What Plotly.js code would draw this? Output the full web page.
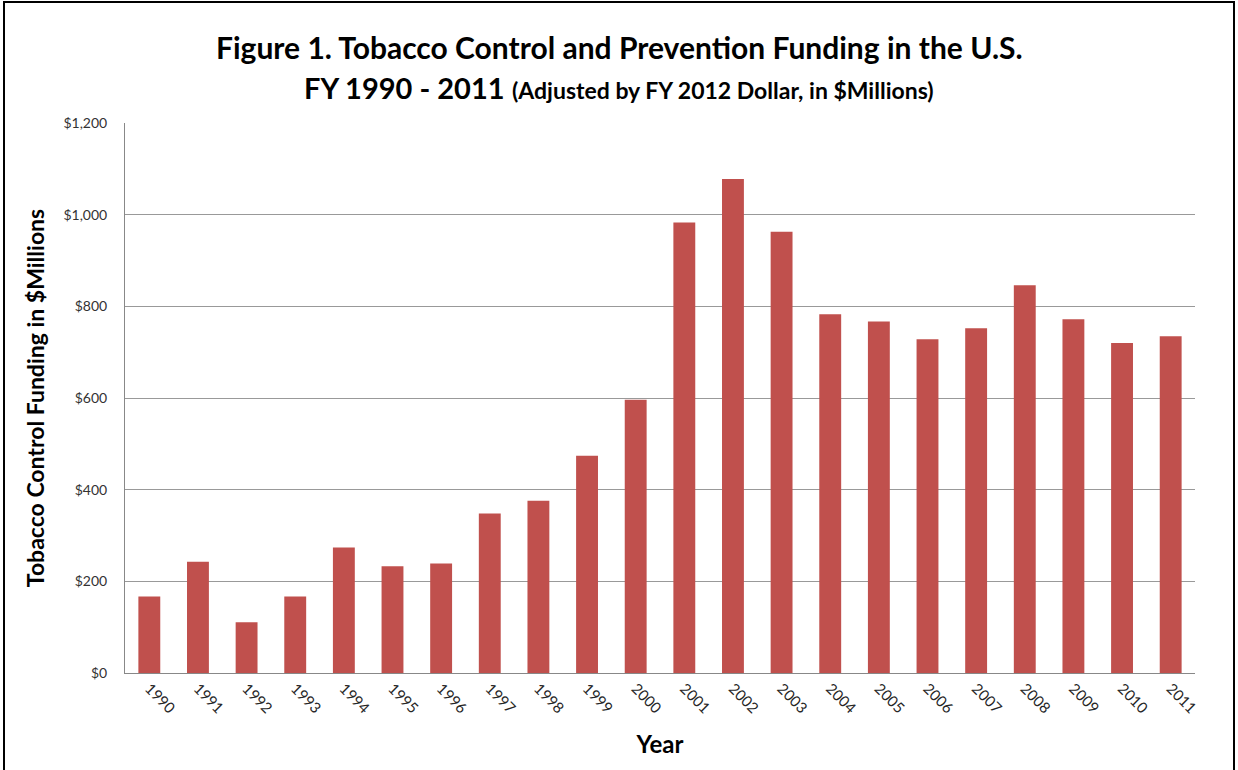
<!DOCTYPE html>
<html><head><meta charset="utf-8">
<script src="https://cdn.plot.ly/plotly-3.0.1.min.js"></script>
<style>
html,body{margin:0;padding:0;background:#fff;overflow:hidden;}
#chart{width:1238px;height:770px;position:absolute;left:0;top:0;}
#frame{position:absolute;left:3px;top:1px;width:1228px;height:800px;border:2px solid #000;pointer-events:none;}
</style></head>
<body>
<div id="chart"></div>
<div id="frame"></div>
<script>
const years = ["1990","1991","1992","1993","1994","1995","1996","1997","1998","1999","2000","2001","2002","2003","2004","2005","2006","2007","2008","2009","2010","2011"];
const funding = [167,243,111,167,274,233,239,348,376,474,596,983,1078,963,783,767,728,752,846,772,720,735];
const yTickVals = [0,200,400,600,800,1000,1200];
const yTickText = ["$0","$200","$400","$600","$800","$1,000","$1,200"];
const titleLine1 = 'Figure 1. Tobacco Control and Prevention Funding in the U.S.';
const titleLine2a = 'FY 1990 - 2011';
const titleLine2b = '(Adjusted by FY 2012 Dollar, in $Millions)';

const FONT = 'Lato, "Open Sans", sans-serif';
const trace = {
  type: 'bar', x: years, y: funding,
  marker: {color: '#C0504D', line: {color: '#C0504D', width: 0}},
  hoverinfo: 'x+y'
};
const layout = {
  width: 1238, height: 770,
  margin: {l:125, r:43, t:123, b:97},
  paper_bgcolor: '#fff', plot_bgcolor: '#fff',
  font: {family: FONT, color: '#000'},
  bargap: 0.55,
  showlegend: false,
  annotations: [
    {text: '<b>' + titleLine1 + '</b>', xref: 'paper', yref: 'paper', x: 0.462, y: 1.138,
     xanchor: 'center', yanchor: 'middle', showarrow: false, font: {size: 30, color: '#000', family: FONT}},
    {text: '<b>' + titleLine2a + '</b> <b><span style="font-size:23px">' + titleLine2b + '</span></b>',
     xref: 'paper', yref: 'paper', x: 0.462, y: 1.064,
     xanchor: 'center', yanchor: 'middle', showarrow: false, font: {size: 29, color: '#000', family: FONT}}
  ],
  xaxis: {
    type: 'category', tickangle: 45,
    showline: true, linecolor: '#888', linewidth: 1,
    ticks: '', showgrid: false,
    tickfont: {size: 15, color: '#262626'},
    title: {text: '<b>Year</b>', font: {size: 24, color: '#000'}, standoff: 20}
  },
  yaxis: {
    range: [0,1200], tickvals: yTickVals, ticktext: yTickText,
    showline: true, linecolor: '#888', linewidth: 1,
    showgrid: true, gridcolor: '#999', gridwidth: 1,
    zeroline: false, ticks: '', ticklabelstandoff: 14,
    tickfont: {size: 14, color: '#333'},
    title: {text: '<b>Tobacco Control Funding in $Millions</b>', font: {size: 23, color: '#000'}, standoff: 12}
  }
};
Plotly.newPlot('chart', [trace], layout, {displayModeBar: false, staticPlot: true});
</script>
</body></html>
